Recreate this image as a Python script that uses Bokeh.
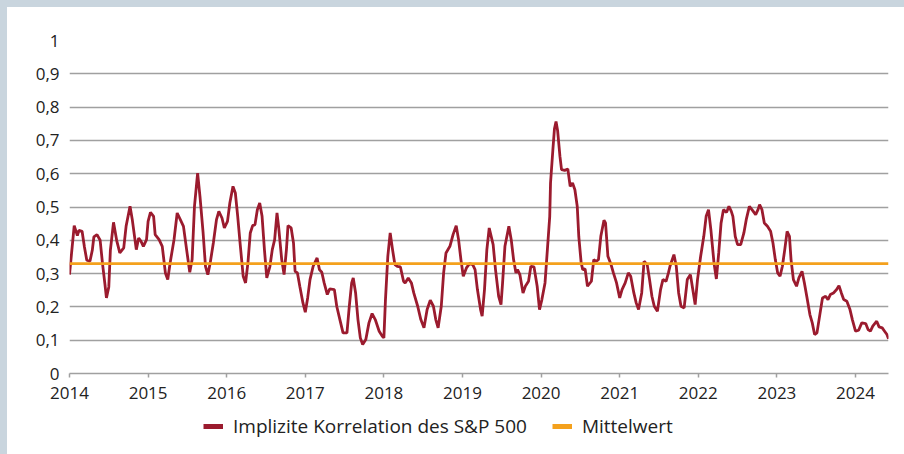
from bokeh.plotting import figure
from bokeh.layouts import column
from bokeh.models import Range1d, FixedTicker, CustomJSTickFormatter, Legend, LegendItem, ColumnDataSource
from bokeh.embed import file_html
from bokeh.resources import INLINE

# ---- data ----
years = [
    2014.00, 2014.06, 2014.10, 2014.12, 2014.16, 2014.19, 2014.22, 2014.26, 2014.29, 2014.31,
    2014.35, 2014.39, 2014.42, 2014.45, 2014.47, 2014.50, 2014.52, 2014.56, 2014.60, 2014.64,
    2014.69, 2014.72, 2014.77, 2014.80, 2014.85, 2014.88, 2014.91, 2014.94, 2014.98, 2015.00,
    2015.03, 2015.07, 2015.09, 2015.14, 2015.18, 2015.22, 2015.25, 2015.28, 2015.33, 2015.37,
    2015.41, 2015.45, 2015.49, 2015.53, 2015.56, 2015.59, 2015.63, 2015.66, 2015.70, 2015.73,
    2015.76, 2015.79, 2015.83, 2015.87, 2015.90, 2015.94, 2015.97, 2016.01, 2016.04, 2016.08,
    2016.11, 2016.14, 2016.17, 2016.21, 2016.24, 2016.27, 2016.30, 2016.33, 2016.36, 2016.39,
    2016.42, 2016.45, 2016.48, 2016.51, 2016.55, 2016.58, 2016.61, 2016.64, 2016.66, 2016.70,
    2016.73, 2016.76, 2016.78, 2016.82, 2016.85, 2016.87, 2016.90, 2016.93, 2016.97, 2017.00,
    2017.03, 2017.06, 2017.10, 2017.15, 2017.18, 2017.21, 2017.24, 2017.28, 2017.31, 2017.37,
    2017.40, 2017.44, 2017.48, 2017.53, 2017.56, 2017.59, 2017.61, 2017.64, 2017.67, 2017.70,
    2017.73, 2017.77, 2017.81, 2017.85, 2017.89, 2017.94, 2017.98, 2018.00, 2018.02, 2018.05,
    2018.08, 2018.11, 2018.14, 2018.17, 2018.21, 2018.25, 2018.27, 2018.31, 2018.35, 2018.38,
    2018.43, 2018.47, 2018.51, 2018.55, 2018.59, 2018.63, 2018.66, 2018.69, 2018.73, 2018.76,
    2018.79, 2018.84, 2018.88, 2018.92, 2018.95, 2018.98, 2019.01, 2019.05, 2019.09, 2019.13,
    2019.16, 2019.19, 2019.23, 2019.25, 2019.28, 2019.31, 2019.34, 2019.39, 2019.42, 2019.46,
    2019.49, 2019.51, 2019.54, 2019.59, 2019.62, 2019.65, 2019.68, 2019.70, 2019.73, 2019.77,
    2019.80, 2019.84, 2019.87, 2019.91, 2019.95, 2019.98, 2020.01, 2020.05, 2020.08, 2020.11,
    2020.12, 2020.15, 2020.17, 2020.19, 2020.21, 2020.24, 2020.26, 2020.30, 2020.34, 2020.37,
    2020.40, 2020.43, 2020.46, 2020.48, 2020.51, 2020.53, 2020.56, 2020.59, 2020.64, 2020.67,
    2020.70, 2020.73, 2020.76, 2020.80, 2020.82, 2020.85, 2020.89, 2020.92, 2020.96, 2021.00,
    2021.03, 2021.07, 2021.11, 2021.14, 2021.18, 2021.21, 2021.24, 2021.28, 2021.31, 2021.35,
    2021.38, 2021.41, 2021.44, 2021.48, 2021.52, 2021.55, 2021.59, 2021.62, 2021.64, 2021.69,
    2021.72, 2021.75, 2021.78, 2021.82, 2021.86, 2021.90, 2021.93, 2021.96, 2021.99, 2022.03,
    2022.07, 2022.10, 2022.13, 2022.16, 2022.20, 2022.23, 2022.26, 2022.29, 2022.32, 2022.36,
    2022.39, 2022.42, 2022.44, 2022.47, 2022.50, 2022.54, 2022.58, 2022.61, 2022.65, 2022.69,
    2022.73, 2022.76, 2022.78, 2022.81, 2022.84, 2022.88, 2022.92, 2022.95, 2022.98, 2023.01,
    2023.04, 2023.07, 2023.10, 2023.13, 2023.16, 2023.18, 2023.21, 2023.25, 2023.28, 2023.32,
    2023.35, 2023.38, 2023.42, 2023.45, 2023.48, 2023.51, 2023.55, 2023.58, 2023.62, 2023.65,
    2023.68, 2023.72, 2023.76, 2023.79, 2023.82, 2023.85, 2023.89, 2023.93, 2023.96, 2024.00,
    2024.04, 2024.08, 2024.13, 2024.16, 2024.19, 2024.22, 2024.27, 2024.30, 2024.34, 2024.37,
    2024.40, 2024.42,
]
correlation = [
    0.297, 0.444, 0.414, 0.430, 0.427, 0.380, 0.340, 0.337, 0.370, 0.410,
    0.417, 0.400, 0.330, 0.270, 0.227, 0.260, 0.370, 0.454, 0.400, 0.362,
    0.377, 0.442, 0.502, 0.460, 0.372, 0.407, 0.397, 0.382, 0.402, 0.457,
    0.484, 0.472, 0.417, 0.402, 0.382, 0.302, 0.282, 0.332, 0.402, 0.482,
    0.462, 0.442, 0.372, 0.304, 0.342, 0.502, 0.602, 0.532, 0.422, 0.322,
    0.297, 0.332, 0.392, 0.462, 0.487, 0.467, 0.437, 0.457, 0.512, 0.562,
    0.542, 0.472, 0.392, 0.292, 0.272, 0.332, 0.422, 0.444, 0.447, 0.492,
    0.512, 0.472, 0.372, 0.287, 0.322, 0.372, 0.402, 0.482, 0.442, 0.342,
    0.297, 0.372, 0.444, 0.437, 0.392, 0.307, 0.302, 0.262, 0.212, 0.184,
    0.227, 0.282, 0.322, 0.347, 0.312, 0.304, 0.272, 0.237, 0.254, 0.252,
    0.202, 0.162, 0.122, 0.122, 0.202, 0.272, 0.287, 0.242, 0.162, 0.107,
    0.087, 0.102, 0.152, 0.180, 0.162, 0.127, 0.112, 0.107, 0.222, 0.352,
    0.422, 0.372, 0.327, 0.322, 0.320, 0.277, 0.272, 0.287, 0.272, 0.242,
    0.202, 0.162, 0.137, 0.192, 0.220, 0.202, 0.162, 0.137, 0.202, 0.302,
    0.362, 0.382, 0.417, 0.444, 0.402, 0.342, 0.292, 0.317, 0.330, 0.327,
    0.312, 0.252, 0.192, 0.172, 0.252, 0.372, 0.437, 0.387, 0.312, 0.232,
    0.207, 0.272, 0.382, 0.442, 0.402, 0.342, 0.302, 0.312, 0.297, 0.242,
    0.262, 0.277, 0.322, 0.320, 0.262, 0.192, 0.222, 0.272, 0.372, 0.472,
    0.572, 0.672, 0.735, 0.757, 0.730, 0.652, 0.612, 0.610, 0.614, 0.562,
    0.572, 0.552, 0.502, 0.410, 0.332, 0.312, 0.314, 0.262, 0.277, 0.342,
    0.337, 0.342, 0.412, 0.460, 0.452, 0.352, 0.327, 0.302, 0.272, 0.227,
    0.252, 0.272, 0.302, 0.292, 0.242, 0.212, 0.192, 0.242, 0.337, 0.327,
    0.282, 0.232, 0.202, 0.187, 0.252, 0.282, 0.277, 0.302, 0.322, 0.357,
    0.322, 0.242, 0.202, 0.197, 0.282, 0.297, 0.252, 0.207, 0.282, 0.352,
    0.412, 0.472, 0.492, 0.432, 0.332, 0.284, 0.362, 0.452, 0.492, 0.484,
    0.502, 0.487, 0.472, 0.412, 0.387, 0.387, 0.422, 0.462, 0.502, 0.490,
    0.477, 0.492, 0.507, 0.492, 0.452, 0.442, 0.427, 0.392, 0.342, 0.302,
    0.292, 0.322, 0.372, 0.427, 0.412, 0.342, 0.282, 0.262, 0.287, 0.307,
    0.272, 0.232, 0.177, 0.152, 0.117, 0.122, 0.182, 0.227, 0.232, 0.222,
    0.237, 0.242, 0.252, 0.264, 0.242, 0.222, 0.217, 0.192, 0.162, 0.127,
    0.130, 0.152, 0.150, 0.132, 0.127, 0.142, 0.157, 0.140, 0.137, 0.127,
    0.117, 0.104,
]
mean_value = 0.33
year_ticks = list(range(2014, 2025))
value_ticks = [0.0, 0.1, 0.2, 0.3, 0.4, 0.5, 0.6, 0.7, 0.8, 0.9, 1.0]
series_label = "Implizite Korrelation des S&P 500"
mean_label = "Mittelwert"

RED = "#9b1b2e"
ORANGE = "#f4a11d"
GRID = "#a0a0a0"
TEXT = "#222222"
FONT = "Open Sans"

x_start, x_end = years[0], years[-1]

# ---------------- main chart ----------------
p = figure(width=897, height=403, output_backend="svg", toolbar_location=None,
           x_range=Range1d(x_start, x_end), y_range=Range1d(0, 1),
           min_border_left=62, min_border_right=16, min_border_top=33, min_border_bottom=37)
p.background_fill_color = "white"
p.border_fill_color = "white"
p.outline_line_color = None

p.xaxis.ticker = FixedTicker(ticks=year_ticks)
p.xaxis.formatter = CustomJSTickFormatter(code="return String(Math.round(tick));")
p.xaxis.axis_line_color = GRID
p.xaxis.axis_line_width = 1.5
p.xaxis.major_tick_line_color = GRID
p.xaxis.major_tick_line_width = 1.5
p.xaxis.major_tick_out = 4
p.xaxis.major_tick_in = 0
p.xaxis.minor_tick_line_color = None
p.xaxis.major_label_text_font = FONT
p.xaxis.major_label_text_font_size = "17px"
p.xaxis.major_label_text_color = TEXT
p.xaxis.major_label_standoff = 9

p.yaxis.ticker = FixedTicker(ticks=value_ticks)
p.yaxis.formatter = CustomJSTickFormatter(
    code="var s = tick.toFixed(1).replace('.', ','); return s.endsWith(',0') ? s.slice(0, -2) : s;")
p.yaxis.axis_line_color = None
p.yaxis.major_tick_line_color = None
p.yaxis.minor_tick_line_color = None
p.yaxis.major_label_text_font = FONT
p.yaxis.major_label_text_font_size = "17px"
p.yaxis.major_label_text_color = TEXT
p.yaxis.major_label_standoff = 4

p.xgrid.grid_line_color = None
p.ygrid.grid_line_color = GRID
p.ygrid.grid_line_width = 1.5

src = ColumnDataSource(dict(x=years, y=correlation))
p.line("x", "y", source=src, line_color=RED, line_width=2.8)
p.line(x=[x_start, x_end], y=[mean_value, mean_value], line_color=ORANGE, line_width=2.8)

# ---------------- legend strip ----------------
lg = figure(width=897, height=44, output_backend="svg", toolbar_location=None,
            x_range=Range1d(0, 1), y_range=Range1d(0, 1),
            min_border_left=0, min_border_right=0, min_border_top=0, min_border_bottom=0)
lg.axis.visible = False
lg.grid.visible = False
lg.outline_line_color = None
lg.background_fill_color = "white"
lg.border_fill_color = "white"
nan = float("nan")
leg_red = lg.line(x=[nan], y=[nan], line_color=RED, line_width=5)
leg_org = lg.line(x=[nan], y=[nan], line_color=ORANGE, line_width=5)
legend = Legend(items=[LegendItem(label=series_label, renderers=[leg_red]),
                       LegendItem(label=mean_label, renderers=[leg_org])],
                location=(134, 15), orientation="horizontal")
legend.padding = 0
legend.margin = 0
legend.spacing = 25
legend.glyph_width = 20
legend.glyph_height = 20
legend.label_height = 20
legend.label_standoff = 10
legend.label_text_font = FONT
legend.label_text_font_size = "19px"
legend.label_text_color = TEXT
legend.border_line_color = None
legend.background_fill_alpha = 0
lg.add_layout(legend, "center")

layout = column(p, lg, spacing=0)

html = file_html(layout, INLINE)
html = html.replace(
    "</head>",
    "<style>html,body{background:#ffffff !important;overflow:hidden !important;}"
    "body{margin:0 !important;padding:0 !important;box-sizing:border-box !important;"
    "border-left:7px solid #c9d5de !important;border-top:7px solid #c9d5de !important;}</style></head>", 1)
open("out.html", "w").write(html)
